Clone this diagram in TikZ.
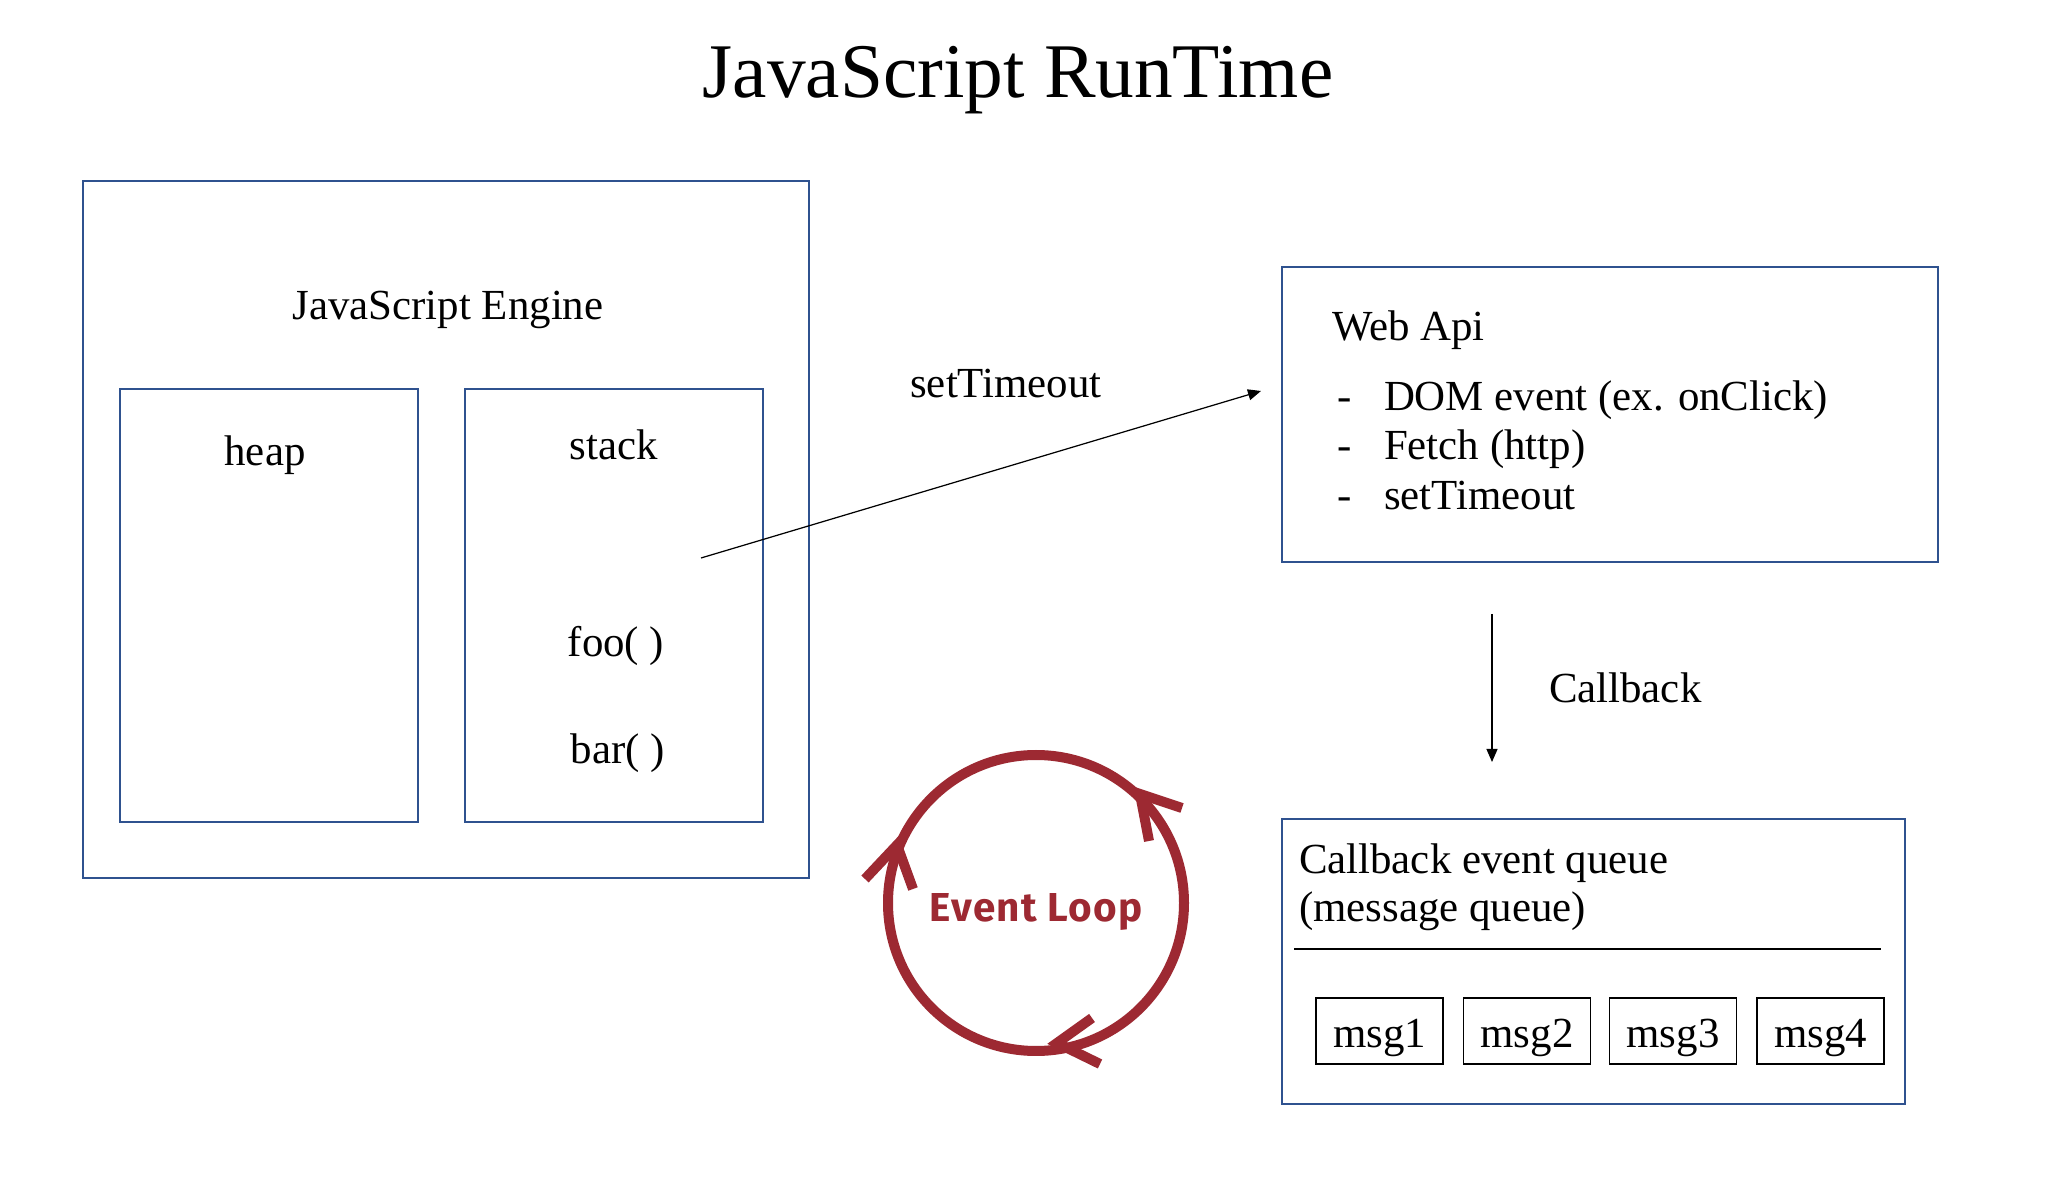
\documentclass[tikz,border=0pt]{standalone}
\usepackage{fontspec}
\setmainfont{Liberation Serif}
\newfontfamily\elfont[LetterSpace=3]{Fira Sans}
\usetikzlibrary{arrows.meta}
\definecolor{boxblue}{RGB}{47,82,143}
\definecolor{loopred}{RGB}{157,41,50}
\newcommand\bodyfont{\fontsize{12.2}{14.6}\selectfont}
\tikzset{
  frame/.style={draw=boxblue, line width=0.55pt, rectangle, inner sep=0pt, outer sep=0pt},
  msgbox/.style={draw=black, line width=0.5pt, rectangle, minimum width=12.7mm, minimum height=6.6mm, inner sep=0pt},
  lbl/.style={inner sep=0pt, outer sep=0pt, anchor=base, font=\bodyfont},
  lblw/.style={lbl, anchor=base west},
  conn/.style={draw=black, line width=0.35pt, -{Triangle[length=1.3mm,width=1.1mm]}},
  loopline/.style={draw=loopred, line width=1.0mm, line cap=butt, line join=miter}
}
\begin{document}
\begin{tikzpicture}[x=0.1mm, y=-0.1mm]
\path[fill=white, use as bounding box] (0,0) rectangle (2070,1186);

% title
\node[lbl, font=\fontsize{22}{26}\selectfont] (title) at (1018,98) {JavaScript RunTime};

% JavaScript engine
\node[frame, minimum width=72.6mm, minimum height=69.7mm] (engine) at (446,529.5) {};
\node[lbl] (enginelbl) at (448,320) {JavaScript Engine};
\node[frame, minimum width=29.8mm, minimum height=43.3mm] (heap) at (269,605.5) {};
\node[frame, minimum width=29.8mm, minimum height=43.3mm] (stack) at (614,605.5) {};
\node[lbl] (heaplbl) at (265,466) {heap};
\node[lbl] (stacklbl) at (614,460) {stack};
\node[lbl] (foo) at (616,657) {foo( )};
\node[lbl] (bar) at (618,764) {bar( )};

% Web API
\node[frame, minimum width=65.6mm, minimum height=29.5mm] (webapi) at (1610,414.5) {};
\node[lblw] (webapilbl) at (1332,341) {Web Api};
\node[lblw] (d1) at (1337,411) {-};
\node[lblw] (t1) at (1384,411) {DOM event (ex. onClick)};
\node[lblw] (d2) at (1337,460) {-};
\node[lblw] (t2) at (1384,460) {Fetch (http)};
\node[lblw] (d3) at (1337,510) {-};
\node[lblw] (t3) at (1384,510) {setTimeout};

% setTimeout arrow
\coordinate (stFrom) at (701,558);
\coordinate (stTo) at (1261,391);
\draw[conn] (stFrom) -- (stTo);
\node[lbl] (stlbl) at (1006,398) {setTimeout};

% Callback arrow
\coordinate (cbFrom) at (1492,614);
\coordinate (cbTo) at (1492,762);
\draw[conn] (cbFrom) -- (cbTo);
\node[lblw] (cblbl) at (1549,703) {Callback};

% Callback queue
\node[frame, minimum width=62.3mm, minimum height=28.5mm] (queue) at (1593.5,961.5) {};
\node[lblw] (q1) at (1299,874) {Callback event queue};
\node[lblw] (q2) at (1299,922) {(message queue)};
\draw[black, line width=0.35pt] ([shift={(12,130)}]queue.north west) -- ([shift={(-24,130)}]queue.north east);
\node[msgbox] (m1) at (1379.5,1031) {};
\node[msgbox] (m2) at (1527,1031) {};
\node[msgbox] (m3) at (1673,1031) {};
\node[msgbox] (m4) at (1820.5,1031) {};
\node[lbl] (m1t) at (1379.5,1048) {msg1};
\node[lbl] (m2t) at (1527,1048) {msg2};
\node[lbl] (m3t) at (1673,1048) {msg3};
\node[lbl] (m4t) at (1820.5,1048) {msg4};

% Event loop
\coordinate (el) at (1036,903);
\draw[loopline] (el) circle[radius=14.8mm];
\draw[loopline] ([shift={(146,-95)}]el) -- ([shift={(104,-109)}]el) -- ([shift={(113,-62)}]el);
\draw[loopline] ([shift={(-171,-24)}]el) -- ([shift={(-139,-58)}]el) -- ([shift={(-123,-14)}]el);
\draw[loopline] ([shift={(56,115)}]el) -- ([shift={(21,140)}]el) -- ([shift={(64,161)}]el);
\node[inner sep=0pt, anchor=base, font=\elfont\bfseries\fontsize{11.5}{13}\selectfont, text=loopred] (eltext) at (1036,922) {Event Loop};
\end{tikzpicture}
\end{document}
